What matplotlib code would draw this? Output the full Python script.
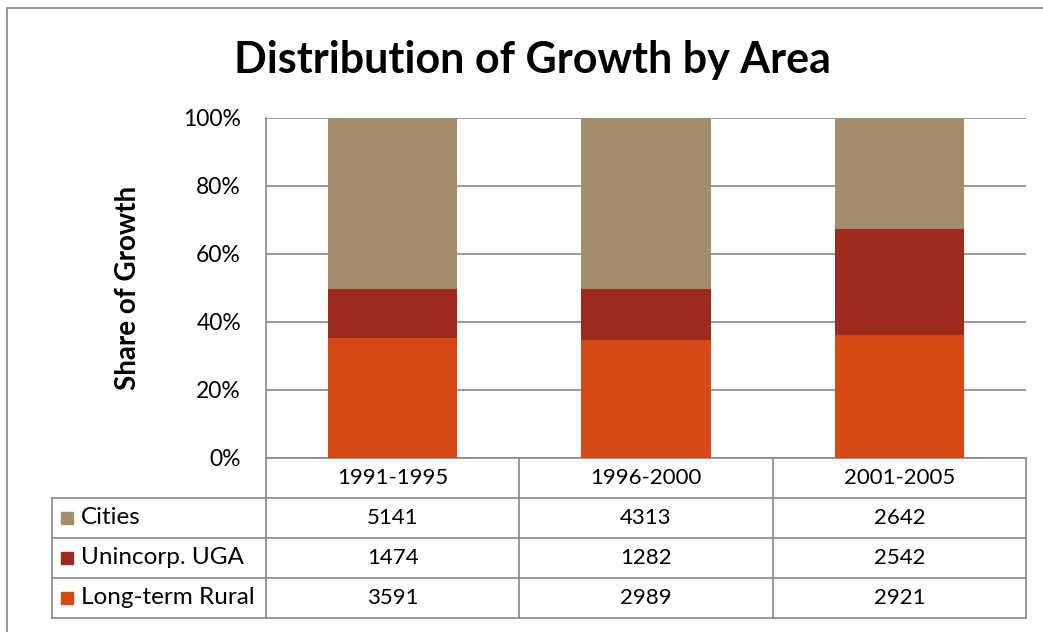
import numpy as np
import matplotlib.pyplot as plt
from matplotlib.patches import Rectangle

periods = ["1991-1995", "1996-2000", "2001-2005"]
series = ["Cities", "Unincorp. UGA", "Long-term Rural"]
cities = [5141, 4313, 2642]
unincorp = [1474, 1282, 2542]
rural = [3591, 2989, 2921]
colors = ["#A38D6D", "#9C2B1E", "#D34A17"]

plt.rcParams["font.family"] = ["Lato", "DejaVu Sans"]

fig = plt.figure(figsize=(10.43, 6.32), dpi=100)
ax = fig.add_axes([266 / 1043, 1 - 458 / 632, 760 / 1043, 340 / 632])

vals = np.array([cities, unincorp, rural], dtype=float)
share = vals / vals.sum(axis=0) * 100
x = np.arange(len(periods))

# stack from the bottom: rural, unincorp, cities
bottom = np.zeros(len(periods))
for i in [2, 1, 0]:
    ax.bar(x, share[i], bottom=bottom, width=0.51, color=colors[i], zorder=3)
    bottom += share[i]

ax.set_xlim(-0.5, 2.5)
ax.set_ylim(0, 100)
ax.set_yticks([0, 20, 40, 60, 80, 100])
ax.set_yticklabels([f"{v}%" for v in range(0, 101, 20)], fontsize=16.5)
ax.tick_params(axis="y", length=0, pad=18)
ax.set_xticks([])
ax.grid(axis="y", color="#888888", linewidth=1.2, zorder=0)
for s in ["top", "right", "bottom"]:
    ax.spines[s].set_visible(False)
ax.spines["left"].set_color("#888888")
ax.spines["left"].set_linewidth(1.2)

ax.set_ylabel("Share of Growth", fontsize=20, fontweight="bold", labelpad=30)

# data table drawn below the axes (axes-fraction coordinates)
lc = dict(color="#888888", linewidth=1.2, transform=ax.transAxes, clip_on=False)
left = -214 / 760
rh = 40 / 340
xe = [left, 0, 1 / 3, 2 / 3, 1]
ye = [0, -rh, -2 * rh, -3 * rh, -4 * rh]
# horizontal lines
ax.plot([0, 1], [0, 0], **lc)
for yv in ye[1:]:
    ax.plot([left, 1], [yv, yv], **lc)
# vertical lines
ax.plot([left, left], [ye[1], ye[4]], **lc)
for xv in xe[1:]:
    ax.plot([xv, xv], [ye[0], ye[4]], **lc)

fs = 16
for j, p in enumerate(periods):
    ax.text((j + 0.5) / 3, -rh / 2, p, transform=ax.transAxes, ha="center", va="center", fontsize=fs)
for i, (name, row) in enumerate(zip(series, [cities, unincorp, rural])):
    yc = -rh * (i + 1.5)
    ax.add_patch(Rectangle((-205 / 760, yc - 6 / 340), 12 / 760, 12 / 340,
                           transform=ax.transAxes, color=colors[i], clip_on=False, zorder=5))
    ax.text(-185 / 760, yc, name, transform=ax.transAxes, ha="left", va="center", fontsize=17.5)
    for j, v in enumerate(row):
        ax.text((j + 0.5) / 3, yc, str(v), transform=ax.transAxes, ha="center", va="center", fontsize=fs)

fig.suptitle("Distribution of Growth by Area", x=532 / 1043, y=1 - 60 / 632,
             va="center", fontsize=31, fontweight="bold")

# chart border
fig.add_artist(Rectangle((7 / 1043, -0.1), 1.2, 1 - 8 / 632 + 0.1, transform=fig.transFigure,
                         fill=False, edgecolor="#888888", linewidth=1.2))

fig.savefig("out.png", dpi=100)
